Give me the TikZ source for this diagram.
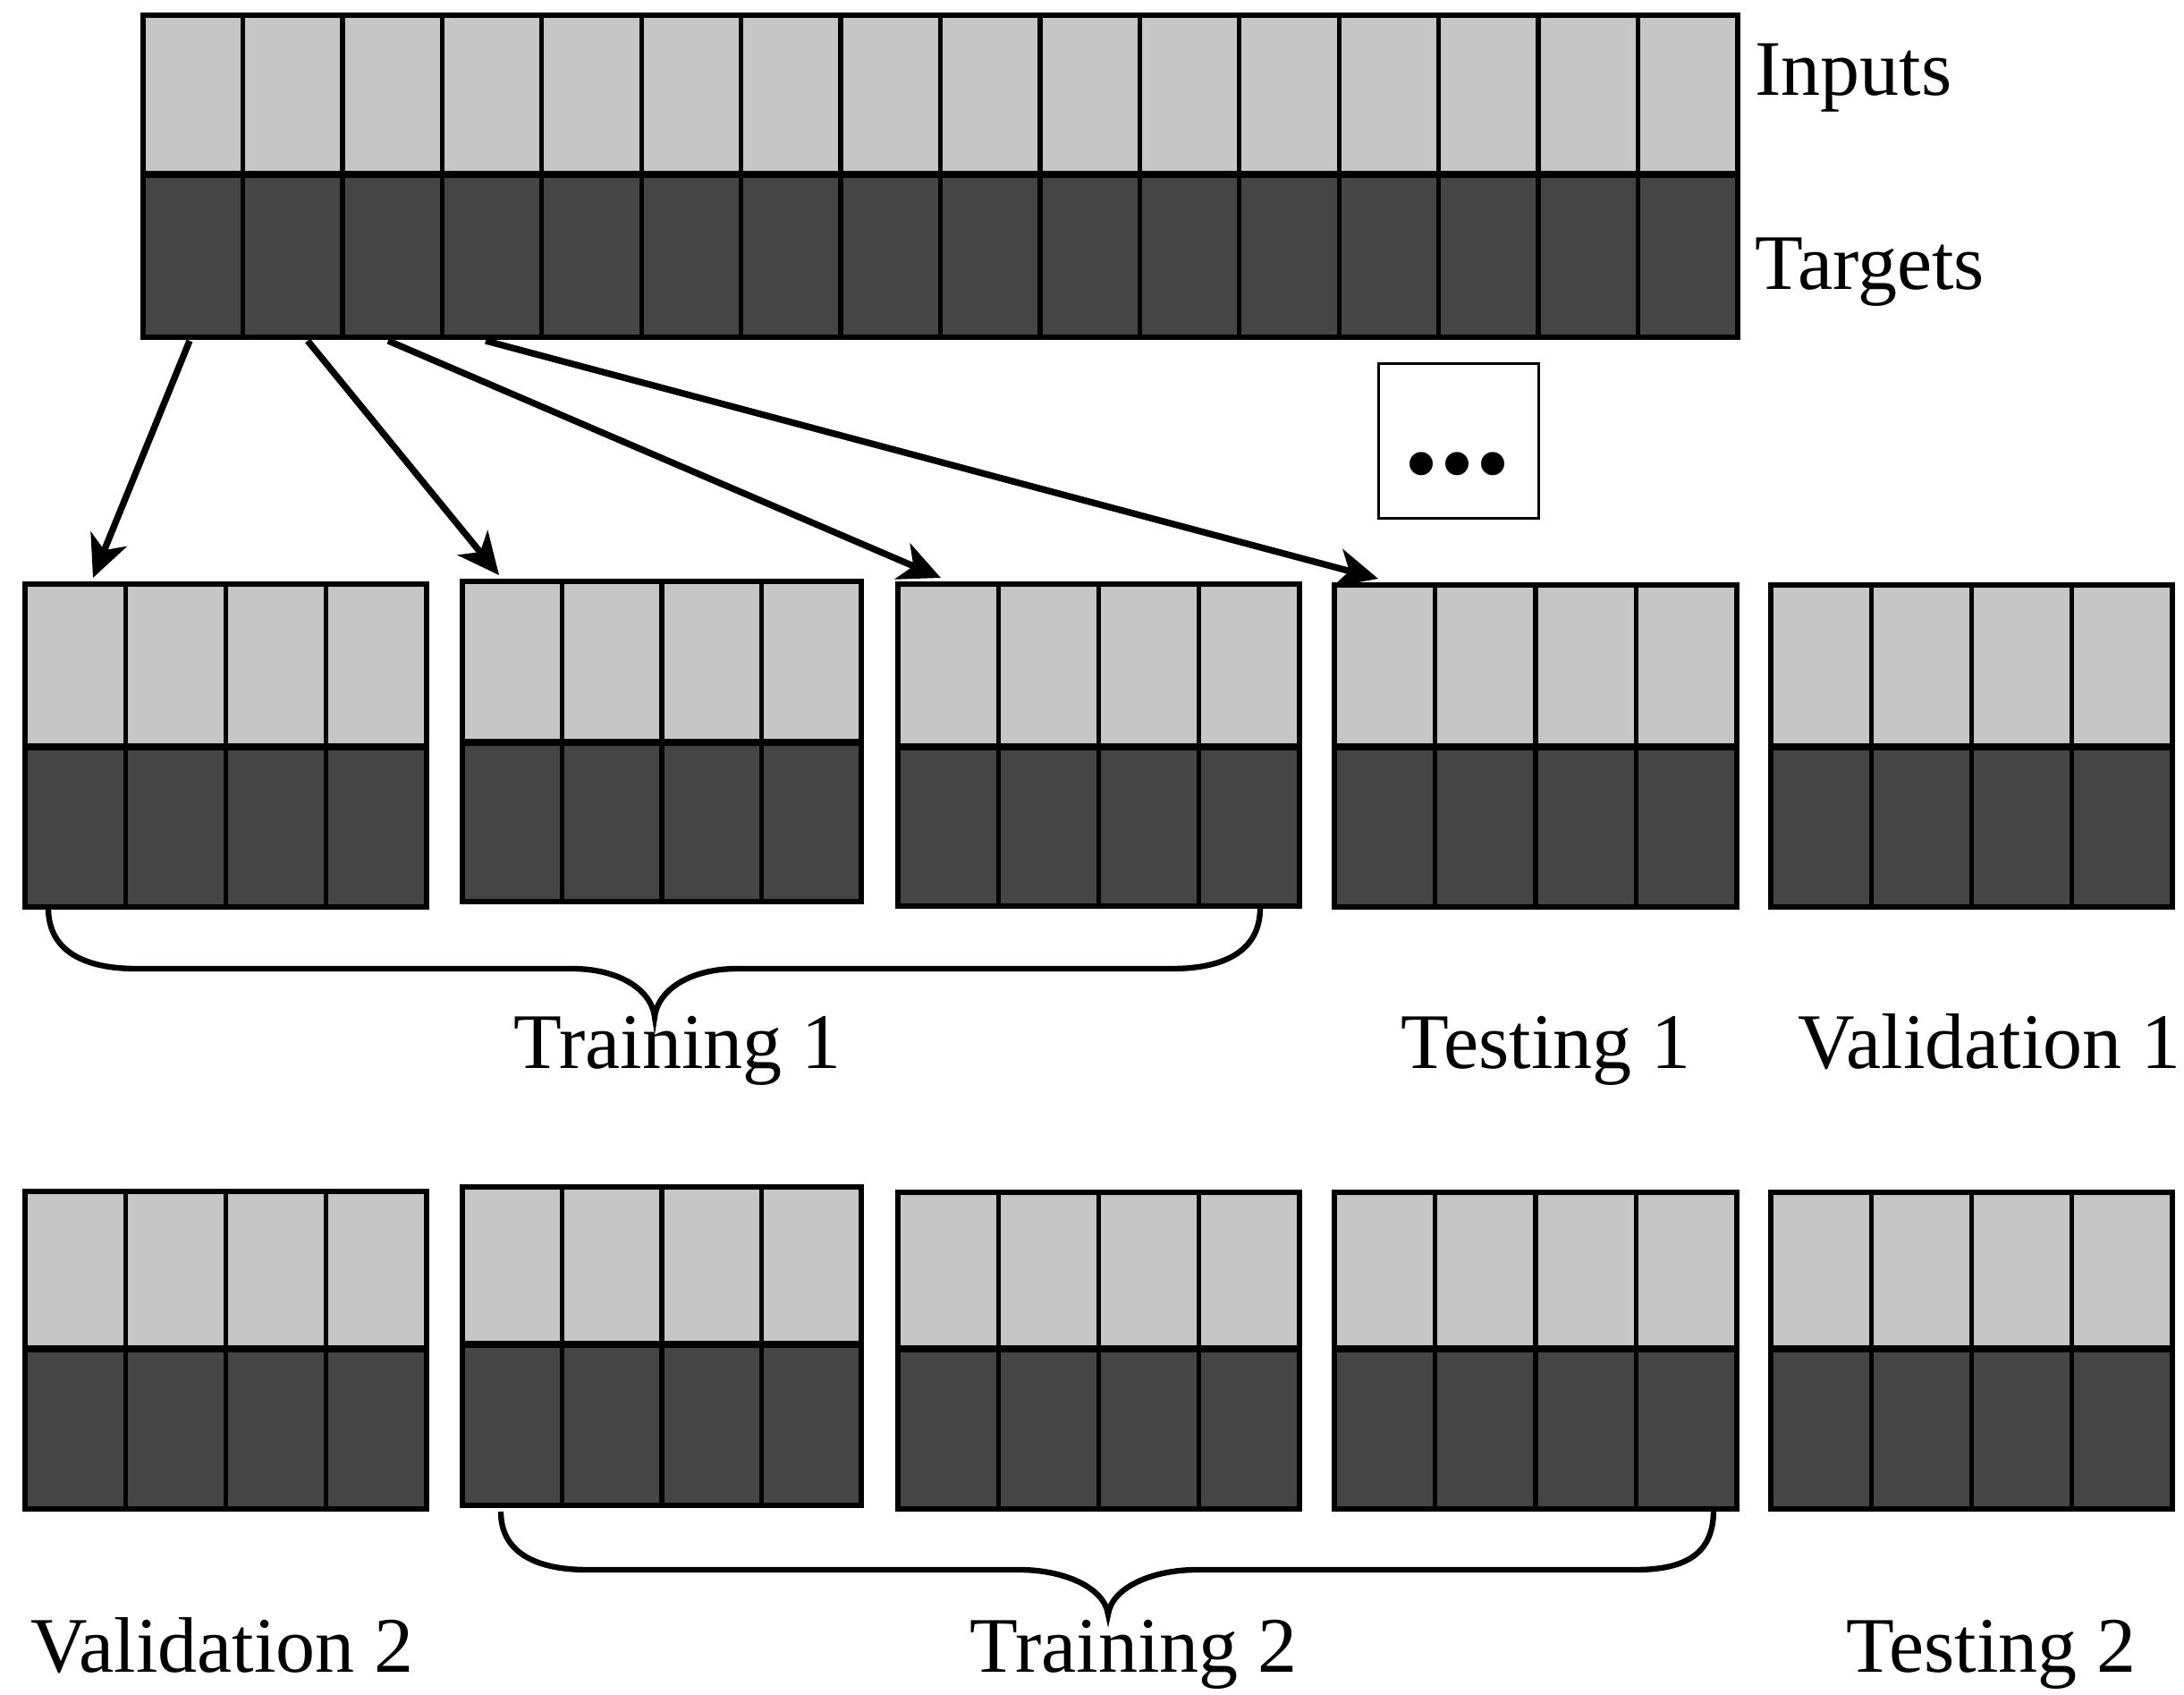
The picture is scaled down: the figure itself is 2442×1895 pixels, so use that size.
\documentclass[tikz,border=0pt]{standalone}
\usepackage{fontspec}
\setmainfont{Liberation Serif}
\usetikzlibrary{arrows.meta,fit}
\definecolor{lightc}{RGB}{198,198,198}
\definecolor{darkc}{RGB}{69,69,69}
\tikzset{
  cellline/.style={line width=1.6pt, black},
  midline/.style={line width=2.6pt, black},
  frame/.style={draw, line width=1.8pt, inner sep=0pt, outer sep=0pt},
  arr/.style={line width=2.2pt, -{Stealth[length=14pt,width=13pt,inset=4pt]}},
  brace/.style={line width=1.9pt},
  lbl/.style={anchor=base west, inner sep=0pt, font=\fontsize{26.4}{30}\selectfont},
  dotbox/.style={draw, line width=0.8pt, minimum width=53.7pt, minimum height=51.9pt, inner sep=0pt}
}
% name, left, top, mid, bottom, right, ncells
\newcommand{\mkblock}[7]{%
  \fill[lightc] (#2,#3) rectangle (#6,#4);
  \fill[darkc] (#2,#4) rectangle (#6,#5);
  \pgfmathtruncatemacro{\ncmone}{#7-1}
  \foreach \i in {1,...,\ncmone} {\draw[cellline] ({#2+(#6-#2)/#7*\i},#3) -- ({#2+(#6-#2)/#7*\i},#5);}
  \draw[midline] (#2,#4) -- (#6,#4);
  \node[frame, fit={(#2,#3) (#6,#5)}] (#1) {};
}
\begin{document}
\begin{tikzpicture}[x=0.3pt, y=-0.3pt]
\fill[white] (0,0) rectangle (2442,1895);
\useasboundingbox (0,0) rectangle (2442,1895);

% top bar
\mkblock{all}{160}{17}{195}{377}{1943}{16}
\node[lbl] (inputs) at (1962,107) {Inputs};
\node[lbl] (targets) at (1962,324) {Targets};

% ellipsis box
\node[dotbox] (dots) at (1631,493) {};
\node[anchor=base, inner sep=0pt, font=\bfseries\fontsize{48}{50}\selectfont] (dotstxt) at (1629,529) {...};

% row 1
\mkblock{a1}{28}{653}{835}{1014}{477}{4}
\mkblock{a2}{517}{650}{830}{1008}{963}{4}
\mkblock{a3}{1004}{653}{835}{1013}{1453}{4}
\mkblock{a4}{1492}{654}{835}{1014}{1942}{4}
\mkblock{a5}{1980}{654}{835}{1014}{2429}{4}

% row 2
\mkblock{b1}{28}{1332}{1508}{1687}{477}{4}
\mkblock{b2}{517}{1327}{1503}{1683}{963}{4}
\mkblock{b3}{1004}{1333}{1508}{1687}{1453}{4}
\mkblock{b4}{1492}{1333}{1508}{1687}{1942}{4}
\mkblock{b5}{1980}{1333}{1508}{1687}{2429}{4}

% arrows
\coordinate (s1) at (212,381);
\coordinate (s2) at (344,381);
\coordinate (s3) at (434,381);
\coordinate (s4) at (543,381);
\coordinate (e1) at (104,646);
\coordinate (e2) at (558,643);
\coordinate (e3) at (1052,646);
\coordinate (e4) at (1541,647);
\draw[arr] (s1) -- (e1);
\draw[arr] (s2) -- (e2);
\draw[arr] (s3) -- (e3);
\draw[arr] (s4) -- (e4);

% braces
\draw[brace] (54,1015) .. controls (54,1062) and (92,1083) .. (153,1083) -- (640,1083)
  .. controls (690,1083) and (728,1105) .. (732,1137)
  .. controls (736,1105) and (774,1083) .. (824,1083) -- (1310,1083)
  .. controls (1371,1083) and (1409,1062) .. (1409,1015);
\draw[brace] (560,1690) .. controls (560,1735) and (598,1755) .. (657,1755) -- (1140,1755)
  .. controls (1190,1755) and (1235,1775) .. (1239,1805)
  .. controls (1243,1775) and (1288,1755) .. (1338,1755) -- (1828,1755)
  .. controls (1888,1755) and (1916,1735) .. (1916,1688);

% labels
\node[lbl] (tr1) at (574,1194) {Training 1};
\node[lbl] (te1) at (1566,1194) {Testing 1};
\node[lbl] (va1) at (2010,1194) {Validation 1};
\node[lbl] (va2) at (34,1869) {Validation 2};
\node[lbl] (tr2) at (1084,1869) {Training 2};
\node[lbl] (te2) at (2064,1869) {Testing 2};
\end{tikzpicture}
\end{document}
